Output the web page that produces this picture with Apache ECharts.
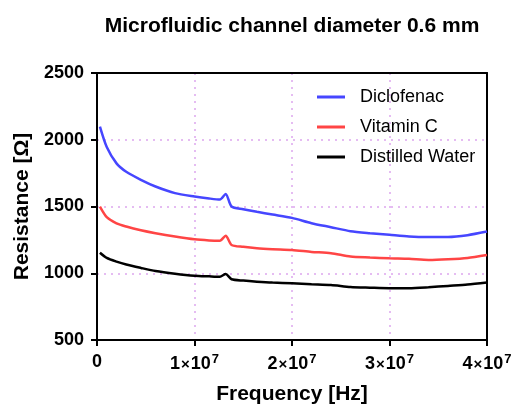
<!DOCTYPE html>
<html><head><meta charset="utf-8">
<script src="https://cdn.jsdelivr.net/npm/echarts@6/dist/echarts.min.js"></script>
<style>html,body{margin:0;padding:0;background:#fff}#c{width:522px;height:405px}</style>
</head><body><div id="c"></div>
<script>
const titleText = 'Microfluidic channel diameter 0.6 mm';
const seriesNames = ['Diclofenac', 'Vitamin C', 'Distilled Water'];
const freq = [0.03e7, 0.1e7, 0.2e7, 0.3e7, 0.45e7, 0.6e7, 0.8e7, 1.0e7, 1.15e7, 1.26e7, 1.32e7, 1.38e7, 1.5e7, 1.64e7, 1.8e7, 2.0e7, 2.2e7, 2.4e7, 2.6e7, 2.8e7, 3.0e7, 3.2e7, 3.4e7, 3.6e7, 3.8e7, 4.0e7];
const diclofenac = [2098, 1945, 1823, 1760, 1700, 1650, 1600, 1575, 1560, 1552, 1594, 1500, 1480, 1460, 1440, 1415, 1375, 1345, 1315, 1300, 1288, 1276, 1272, 1272, 1285, 1312];
const vitaminC = [1499, 1420, 1374, 1350, 1322, 1300, 1275, 1254, 1246, 1244, 1281, 1212, 1198, 1187, 1180, 1174, 1160, 1150, 1125, 1118, 1112, 1108, 1100, 1105, 1115, 1137];
const water = [1154, 1115, 1087, 1065, 1040, 1017, 997, 982, 977, 974, 994, 955, 945, 937, 930, 925, 918, 912, 897, 892, 888, 888, 895, 905, 915, 930];
const colors = ['#4646ff', '#ff4545', '#000000'];
const yTicks = {min: 500, max: 2500, interval: 500};
const xTicks = {min: 0, max: 4e7, interval: 1e7};

const FONT = 'Arial, "Liberation Sans", sans-serif';
const pair = ys => freq.map((f, i) => [f, ys[i]]);
const chart = echarts.init(document.getElementById('c'), null, {renderer: 'canvas'});
const grid = '#dda6ee';
const frameAxis = {axisLine: {show: true, onZero: false, lineStyle: {color: '#000', width: 2}},
  axisTick: {show: false}, axisLabel: {show: false}, splitLine: {show: false}};
chart.setOption({
  animation: false,
  backgroundColor: '#fff',
  title: {text: titleText, left: 287, top: 11, textAlign: 'center',
    textStyle: {fontFamily: FONT, fontWeight: 'bold', fontSize: 21, color: '#000'}},
  grid: {left: 97, right: 35, top: 73, bottom: 65, containLabel: false, outerBoundsMode: 'none'},
  legend: {orient: 'vertical', left: 312, top: 83, itemWidth: 28, itemHeight: 3, itemGap: 12, icon: 'rect',
    data: seriesNames,
    textStyle: {fontFamily: FONT, fontSize: 18, lineHeight: 18, color: '#000', padding: [0, 0, 0, 10]}},
  xAxis: [{type: 'value', min: xTicks.min, max: xTicks.max, interval: xTicks.interval,
    name: 'Frequency [Hz]', nameLocation: 'middle', nameGap: 44,
    nameTextStyle: {fontFamily: FONT, fontWeight: 'bold', fontSize: 21, color: '#000'},
    axisLine: {onZero: false, lineStyle: {color: '#000', width: 2}},
    axisTick: {show: true, length: 6, lineStyle: {color: '#000', width: 2}},
    splitLine: {show: true, showMinLine: false, showMaxLine: false, lineStyle: {color: grid, type: [2, 5], width: 1.5}},
    axisLabel: {margin: 13, color: '#000', fontFamily: FONT, fontWeight: 'bold', fontSize: 18,
      formatter: v => v === 0 ? '0' : (v / 1e7) + '{x|×}10{s|7}',
      rich: {x: {fontFamily: FONT, fontSize: 15, color: '#000', padding: [0, 1, 0, 1]},
             s: {fontFamily: FONT, fontSize: 13, fontWeight: 'bold', color: '#000', padding: [0, 0, 10, 1]}}}},
    Object.assign({type: 'value', position: 'top', min: xTicks.min, max: xTicks.max}, frameAxis)],
  yAxis: [{type: 'value', min: yTicks.min, max: yTicks.max, interval: yTicks.interval,
    name: 'Resistance [Ω]', nameLocation: 'middle', nameGap: 59,
    nameTextStyle: {fontFamily: FONT, fontWeight: 'bold', fontSize: 21, color: '#000'},
    axisLine: {show: true, onZero: false, lineStyle: {color: '#000', width: 2}},
    axisTick: {show: true, length: 6, lineStyle: {color: '#000', width: 2}},
    splitLine: {show: true, showMinLine: false, showMaxLine: false, lineStyle: {color: grid, type: [2, 5], width: 1.5}},
    axisLabel: {margin: 13, color: '#000', fontFamily: FONT, fontWeight: 'bold', fontSize: 18, formatter: v => String(v)}},
    Object.assign({type: 'value', position: 'right', min: yTicks.min, max: yTicks.max}, frameAxis)],
  series: [diclofenac, vitaminC, water].map((ys, i) => ({
    name: seriesNames[i], type: 'line', data: pair(ys), showSymbol: false, symbol: 'none',
    smooth: 0.25, color: colors[i], lineStyle: {color: colors[i], width: 2.5}
  }))
});
</script></body></html>
